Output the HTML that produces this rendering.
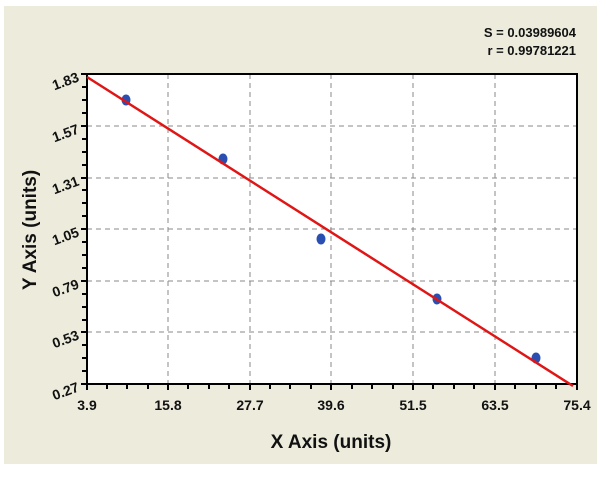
<!DOCTYPE html>
<html><head><style>
html,body{margin:0;padding:0;background:#fff;}
svg{display:block;}
text{font-family:"Liberation Sans",Arial,sans-serif;font-weight:bold;fill:#111;}
</style></head><body>
<svg width="600" height="477" viewBox="0 0 600 477">
<rect x="4" y="6" width="593" height="458" fill="#ecebdc"/>
<rect x="87" y="74" width="490" height="310" fill="#fff"/>
<g stroke="#888" stroke-width="1" stroke-dasharray="5,4">
<line x1="168" y1="74" x2="168" y2="384"/>
<line x1="250" y1="74" x2="250" y2="384"/>
<line x1="331" y1="74" x2="331" y2="384"/>
<line x1="413" y1="74" x2="413" y2="384"/>
<line x1="495" y1="74" x2="495" y2="384"/>
<line x1="87" y1="126" x2="577" y2="126"/>
<line x1="87" y1="178" x2="577" y2="178"/>
<line x1="87" y1="229" x2="577" y2="229"/>
<line x1="87" y1="281" x2="577" y2="281"/>
<line x1="87" y1="332" x2="577" y2="332"/>
</g>
<rect x="87" y="74" width="490" height="310" fill="none" stroke="#000" stroke-width="2"/>
<g fill="#2a4fb0">
<ellipse cx="126" cy="100" rx="4.5" ry="5.5"/>
<ellipse cx="223" cy="159" rx="4.5" ry="5.5"/>
<ellipse cx="321" cy="239" rx="4.5" ry="5.5"/>
<ellipse cx="437" cy="299" rx="4.5" ry="5.5"/>
<ellipse cx="536" cy="358" rx="4.5" ry="5.5"/>
</g>
<line x1="87" y1="77" x2="573" y2="386" stroke="#e01515" stroke-width="2.5"/>
<g font-size="14" text-anchor="middle">
<text x="87" y="410">3.9</text>
<text x="168" y="410">15.8</text>
<text x="250" y="410">27.7</text>
<text x="331" y="410">39.6</text>
<text x="413" y="410">51.5</text>
<text x="495" y="410">63.5</text>
<text x="577" y="410">75.4</text>
</g>
<g font-size="14" text-anchor="end">
<text transform="translate(80,81) rotate(-20)">1.83</text>
<text transform="translate(80,133) rotate(-20)">1.57</text>
<text transform="translate(80,185) rotate(-20)">1.31</text>
<text transform="translate(80,236) rotate(-20)">1.05</text>
<text transform="translate(80,288) rotate(-20)">0.79</text>
<text transform="translate(80,339) rotate(-20)">0.53</text>
<text transform="translate(80,391) rotate(-20)">0.27</text>
</g>
<text x="331" y="448" font-size="19" text-anchor="middle">X Axis (units)</text>
<text transform="translate(36,230) rotate(-90)" font-size="19" text-anchor="middle">Y Axis (units)</text>
<text x="576" y="37" font-size="13" text-anchor="end">S = 0.03989604</text>
<text x="576" y="55" font-size="13" text-anchor="end">r = 0.99781221</text>
<g stroke="#000" stroke-width="2">
<path d="M87 384v6M107 384v5M127 384v5M148 384v5M168 384v6M188 384v5M209 384v5M229 384v5M250 384v6M270 384v5M290 384v5M311 384v5M331 384v6M352 384v5M372 384v5M393 384v5M413 384v6M433 384v5M454 384v5M474 384v5M495 384v6M515 384v5M536 384v5M556 384v5M577 384v6"/>
<path d="M87 74h-6M87 87h-5M87 100h-5M87 113h-5M87 126h-6M87 139h-5M87 152h-5M87 165h-5M87 178h-6M87 190h-5M87 203h-5M87 216h-5M87 229h-6M87 242h-5M87 255h-5M87 268h-5M87 281h-6M87 294h-5M87 307h-5M87 320h-5M87 332h-6M87 345h-5M87 358h-5M87 371h-5M87 384h-6"/>
</g>
</svg>
</body></html>
